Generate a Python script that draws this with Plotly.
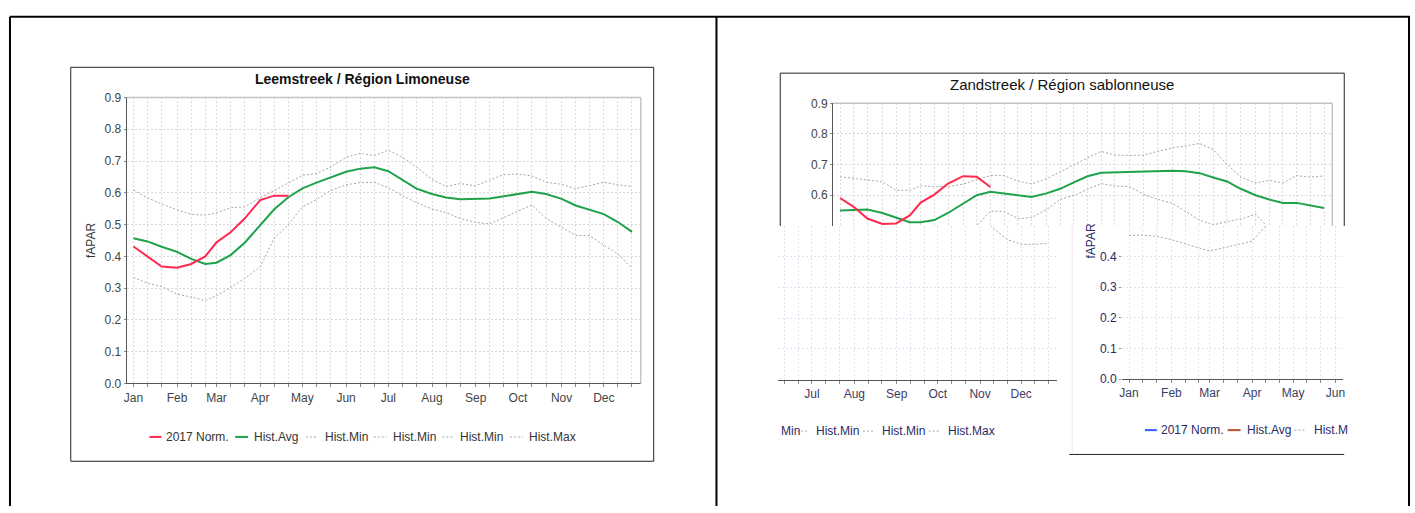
import pandas as pd
import plotly.graph_objects as go

W, H = 1415, 513
FONT = "Liberation Sans, Arial, sans-serif"

# ---- x categories: dekads (1st, 11th, 21st of every month) ----
dekads = [f"2017-{m:02d}-{d:02d}" for m in range(1, 13) for d in (1, 11, 21)]
month_starts = [f"2017-{m:02d}-01" for m in range(1, 13)]
month_labels = ["Jan", "Feb", "Mar", "Apr", "May", "Jun",
                "Jul", "Aug", "Sep", "Oct", "Nov", "Dec"]

# ---- Leemstreek / Région Limoneuse ----
leem_2017 = [0.431, 0.400, 0.368, 0.364, 0.376, 0.400, 0.444, 0.476, 0.519, 0.577, 0.591, 0.591]
leem_avg = [0.457, 0.447, 0.430, 0.414, 0.392, 0.376, 0.380, 0.404, 0.443, 0.498, 0.548, 0.586,
            0.614, 0.632, 0.649, 0.666, 0.676, 0.680, 0.668, 0.640, 0.613, 0.596, 0.585, 0.580,
            0.580, 0.582, 0.589, 0.597, 0.603, 0.596, 0.581, 0.560, 0.546, 0.533, 0.508, 0.477]
leem_min = [0.334, 0.315, 0.305, 0.281, 0.272, 0.261, 0.276, 0.302, 0.331, 0.366, 0.458, 0.499,
            0.556, 0.579, 0.607, 0.625, 0.632, 0.633, 0.616, 0.591, 0.569, 0.549, 0.538, 0.519,
            0.507, 0.502, 0.522, 0.542, 0.562, 0.519, 0.492, 0.466, 0.465, 0.435, 0.408, 0.362]
leem_max = [0.609, 0.584, 0.565, 0.546, 0.532, 0.530, 0.537, 0.553, 0.556, 0.585, 0.607, 0.630,
            0.655, 0.661, 0.681, 0.712, 0.724, 0.717, 0.734, 0.712, 0.681, 0.642, 0.620, 0.629,
            0.622, 0.640, 0.657, 0.659, 0.653, 0.633, 0.627, 0.613, 0.623, 0.633, 0.625, 0.620]

# ---- Zandstreek / Région sablonneuse ----
zand_2017 = [0.591, 0.562, 0.524, 0.506, 0.508, 0.534, 0.576, 0.602, 0.638, 0.662, 0.660, 0.627]
zand_avg = [0.550, 0.552, 0.553, 0.542, 0.526, 0.512, 0.512, 0.519, 0.542, 0.573, 0.600, 0.611,
            0.606, 0.599, 0.594, 0.606, 0.621, 0.642, 0.662, 0.673, 0.674, 0.677, 0.677, 0.679,
            0.680, 0.678, 0.672, 0.658, 0.645, 0.621, 0.600, 0.586, 0.575, 0.575, 0.566, 0.558]
zand_min = [0.468, 0.470, 0.466, 0.455, 0.441, 0.427, 0.418, 0.428, 0.438, 0.450, 0.500, 0.548,
            0.547, 0.524, 0.527, 0.553, 0.586, 0.600, 0.619, 0.638, 0.630, 0.628, 0.603, 0.587,
            0.574, 0.547, 0.519, 0.503, 0.514, 0.522, 0.538, 0.490, 0.455, 0.440, 0.440, 0.443]
zand_max = [0.660, 0.655, 0.651, 0.644, 0.616, 0.616, 0.631, 0.628, 0.628, 0.636, 0.651, 0.664,
            0.664, 0.646, 0.637, 0.654, 0.676, 0.700, 0.722, 0.743, 0.731, 0.730, 0.731, 0.743,
            0.754, 0.761, 0.769, 0.749, 0.701, 0.659, 0.640, 0.648, 0.640, 0.664, 0.659, 0.663]

y_ticks_full = [0.0, 0.1, 0.2, 0.3, 0.4, 0.5, 0.6, 0.7, 0.8, 0.9]

RED = "#ff2a50"
GREEN = "#1fa24a"
GRAY = "#a4a4a4"
BLUE = "#2f5bff"
BROWN = "#b5532c"
GRID = "#d9d9d9"
GRID_FRAG = "#e2e2f2"
TXT = "#444444"
TXT_FRAG = "#2a2a66"


def fx(p):
    return p / W


def fy(p):
    return 1 - p / H


def date_range(left_px, right_px, jan1_px, px_per_day):
    base = pd.Timestamp("2017-01-01")
    a = base + pd.Timedelta(days=(left_px - jan1_px) / px_per_day)
    b = base + pd.Timedelta(days=(right_px - jan1_px) / px_per_day)
    return [a.strftime("%Y-%m-%d %H:%M:%S"), b.strftime("%Y-%m-%d %H:%M:%S")]


def x_axis(dom, rng, anchor, grid, labels=True, line=True, label_color=TXT):
    tick = "outside" if labels else ""
    return dict(
        domain=[fx(dom[0]), fx(dom[1])], range=rng, type="date", anchor=anchor,
        tickmode="array", tickvals=month_starts, ticktext=month_labels,
        showticklabels=labels, ticks=tick, ticklen=3, tickcolor="#8a8a8a",
        showgrid=True, gridcolor=grid, griddash="2px,2px", gridwidth=1,
        minor=dict(tickvals=dekads, showgrid=True, gridcolor=grid, griddash="2px,2px",
                   ticks=tick, ticklen=3, tickcolor="#8a8a8a"),
        showline=line, linecolor="#555555", linewidth=1, zeroline=False,
        tickfont=dict(family=FONT, size=12, color=label_color), fixedrange=True,
    )


def y_axis(dom, rng, anchor, grid, tickvals, labels=True, line=True, label_color=TXT):
    return dict(
        domain=[fy(dom[1]), fy(dom[0])], range=rng, anchor=anchor,
        tickmode="array", tickvals=tickvals, tickformat=".1f",
        showticklabels=labels, ticks="outside" if labels else "", ticklen=2,
        tickcolor="#8a8a8a",
        showgrid=True, gridcolor=grid, griddash="2px,2px", gridwidth=1,
        showline=line, linecolor="#555555", linewidth=1, zeroline=False,
        tickfont=dict(family=FONT, size=12, color=label_color), fixedrange=True,
    )


fig = go.Figure()


def add_series(xa, ya, s2017, avg, mn, mx, c2017=RED, cavg=GREEN):
    dotted = dict(color=GRAY, width=1, dash="2px,2px")
    for vals in (mx, mn):
        fig.add_trace(go.Scatter(x=dekads, y=vals, xaxis=xa, yaxis=ya, mode="lines",
                                 line=dotted, hoverinfo="skip", showlegend=False))
    fig.add_trace(go.Scatter(x=dekads, y=avg, xaxis=xa, yaxis=ya, mode="lines",
                             line=dict(color=cavg, width=2), hoverinfo="skip",
                             showlegend=False))
    fig.add_trace(go.Scatter(x=dekads[:len(s2017)], y=s2017, xaxis=xa, yaxis=ya,
                             mode="lines", line=dict(color=c2017, width=2),
                             hoverinfo="skip", showlegend=False))


# Leemstreek chart
add_series("x", "y", leem_2017, leem_avg, leem_min, leem_max)
# Zandstreek chart, upper band
add_series("x2", "y2", zand_2017, zand_avg, zand_min, zand_max)
# Zandstreek lower-right piece
add_series("x3", "y3", zand_2017, zand_avg, zand_min, zand_max)
# Zandstreek lower-left piece
add_series("x4", "y4", zand_2017, zand_avg, zand_min, zand_max, c2017=BLUE, cavg=BROWN)

ZK = 1.372  # px per day on the Zandstreek time axis

fig.update_layout(
    width=W, height=H, margin=dict(l=0, r=0, t=0, b=0),
    paper_bgcolor="white", plot_bgcolor="white", showlegend=False,
    font=dict(family=FONT, size=12, color=TXT),
    xaxis=x_axis((124, 640), date_range(124, 640, 130.9, 1.4133), "y", GRID),
    yaxis=dict(y_axis((93, 387), [0, 0.9], "x", GRID, y_ticks_full),
               title=dict(text="fAPAR", standoff=6,
                          font=dict(family=FONT, size=12, color="#333333"))),
    xaxis2=x_axis((833, 1334), date_range(833, 1334, 840, ZK), "y2", GRID,
                  labels=False, line=False),
    yaxis2=y_axis((99, 225), [0.5, 0.9], "x2", GRID, [0.6, 0.7, 0.8, 0.9]),
    xaxis3=x_axis((778, 1058), date_range(778, 1058, 563.5, ZK), "y3", GRID_FRAG,
                  label_color="#3c3c64"),
    yaxis3=y_axis((225, 383), [0, 0.5], "x3", GRID_FRAG, [0.1, 0.2, 0.3, 0.4],
                  labels=False, line=False),
    xaxis4=x_axis((1123, 1345), date_range(1123, 1345, 1130, ZK), "y4", GRID_FRAG,
                  label_color="#3c3c64"),
    yaxis4=y_axis((225, 382.5), [0, 0.5], "x4", GRID_FRAG, [0.0, 0.1, 0.2, 0.3, 0.4],
                  line=False, label_color=TXT_FRAG),
)

shapes = []


def seg(x0, y0, x1, y1, color="#000000", width=1, dash=None):
    line = dict(color=color, width=width)
    if dash:
        line["dash"] = dash
    shapes.append(dict(type="line", xref="paper", yref="paper",
                       x0=fx(x0), y0=fy(y0), x1=fx(x1), y1=fy(y1), line=line))


# page borders
seg(7, 10, 1412, 10, width=2)
seg(7, 10, 7, 513, width=2)
seg(716, 10, 716, 513, width=2)
seg(1411, 10, 1411, 513, width=2)

# Leemstreek frame and plot border
shapes.append(dict(type="rect", xref="paper", yref="paper", x0=fx(68), y0=fy(467),
                   x1=fx(653), y1=fy(62), line=dict(color="#222222", width=1)))
seg(124, 93, 640, 93, color="#c4c4c4", width=1.5)
seg(640, 93, 640, 387, color="#c4c4c4", width=1.5)

# Zandstreek frame pieces and plot border
seg(780, 68, 1346, 68, color="#222222")
seg(780, 68, 780, 225, color="#222222")
seg(1346, 68, 1346, 225, color="#222222")
seg(1070, 460, 1346, 460, color="#222222")
seg(1073, 225, 1073, 458, color="#f3e4f3")
seg(833, 99, 1334, 99, color="#c4c4c4", width=1.5)
seg(1334, 99, 1334, 225, color="#c4c4c4", width=1.5)

annotations = []


def text(x, y, s, color=TXT, size=12, anchor="left", bold=False, angle=0):
    annotations.append(dict(xref="paper", yref="paper", x=fx(x), y=fy(y), text=s,
                            showarrow=False, xanchor=anchor, yanchor="middle",
                            textangle=angle,
                            font=dict(family=FONT, size=size, color=color,
                                      weight="bold" if bold else "normal")))


# titles
text(361, 74, "Leemstreek / Région Limoneuse", color="#111111", size=14,
     anchor="center", bold=True)
text(1063, 80, "Zandstreek / Région sablonneuse", color="#111111", size=15,
     anchor="center")
text(1092, 241, "fAPAR", color=TXT_FRAG, size=12, anchor="center", angle=-90)

# Leemstreek legend
legend_items = [
    ("2017 Norm.", RED, None, 147, 159, 162),
    ("Hist.Avg", GREEN, None, 233, 246, 250),
    ("Hist.Min", GRAY, "2px,2px", 304, 316, 321),
    ("Hist.Min", GRAY, "2px,2px", 372, 385, 389),
    ("Hist.Min", GRAY, "2px,2px", 441, 453, 457),
    ("Hist.Max", GRAY, "2px,2px", 509, 522, 526),
]
for name, col, dash, s0, s1, tx in legend_items:
    seg(s0, 442, s1, 442, color=col, width=2 if dash is None else 1, dash=dash)
    text(tx, 442, name, color="#333333")

# legend pieces of the Zandstreek chart
frag_a = [("Min", None, None, 779), ("Hist.Min", 797, 808, 814),
          ("Hist.Min", 863, 875, 880), ("Hist.Max", 929, 941, 946)]
for name, s0, s1, tx in frag_a:
    if s0 is not None:
        seg(s0, 436, s1, 436, color=GRAY, width=1, dash="2px,2px")
    text(tx, 436, name, color=TXT_FRAG)

frag_b = [("2017 Norm.", BLUE, None, 1146, 1158, 1160),
          ("Hist.Avg", BROWN, None, 1229, 1242, 1246),
          ("Hist.M", GRAY, "2px,2px", 1296, 1308, 1314)]
for name, col, dash, s0, s1, tx in frag_b:
    seg(s0, 435, s1, 435, color=col, width=2 if dash is None else 1, dash=dash)
    text(tx, 435, name, color=TXT_FRAG)

fig.update_layout(shapes=shapes, annotations=annotations)
fig.write_html("out.html")
